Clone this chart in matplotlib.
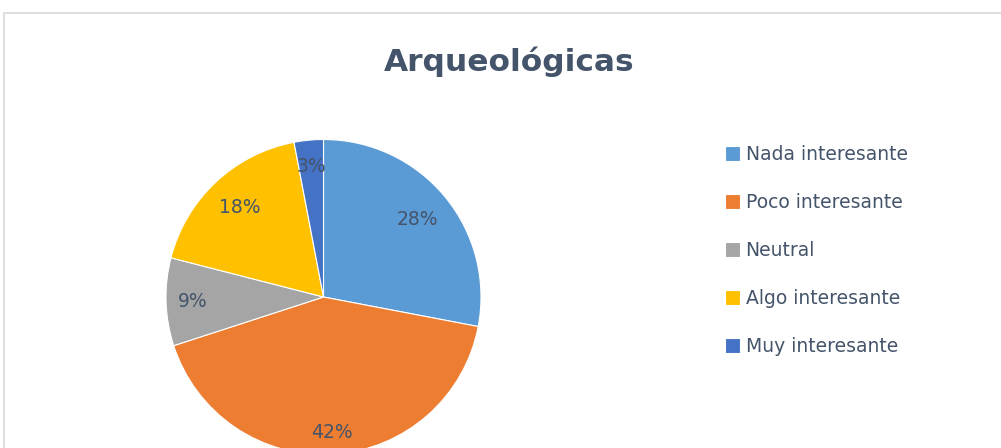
import matplotlib
matplotlib.use("Agg")
import matplotlib.pyplot as plt
from matplotlib.patches import Rectangle
import numpy as np

categories = ["Nada interesante", "Poco interesante", "Neutral", "Algo interesante", "Muy interesante"]
values = [28, 42, 9, 18, 3]
labels = ["28%", "42%", "9%", "18%", "3%"]
colors = ["#5B9BD5", "#ED7D31", "#A5A5A5", "#FFC000", "#4472C4"]
title = "Arqueológicas"

W, H = 1001, 448
fig = plt.figure(figsize=(W / 100, H / 100), dpi=100)
fig.patch.set_facecolor("white")
ax = fig.add_axes([0, 0, 1, 1])

cx, cy, r = 323.5, H - 297, 157.5
text_color = "#44546A"
wedges, _ = ax.pie(values, colors=colors, startangle=90, counterclock=False,
                   center=(cx, cy), radius=r, frame=True,
                   wedgeprops=dict(edgecolor="white", linewidth=0.8))
ax.set_xlim(0, W)
ax.set_ylim(0, H)
ax.set_aspect("equal")
ax.axis("off")

# chart border
ax.add_patch(Rectangle((4, -10), W + 10, H - 13 + 10, fill=False, edgecolor="#D9D9D9", lw=1.2))

dists = [0.77, 0.86, 0.83, 0.78, 0.83]
for w, lab, d in zip(wedges, labels, dists):
    ang = np.deg2rad((w.theta1 + w.theta2) / 2)
    ax.text(cx + d * r * np.cos(ang), cy + d * r * np.sin(ang), lab,
            ha="center", va="center", fontsize=13.5, color=text_color,
            family="DejaVu Sans")

ax.text(509, H - 62, title, ha="center", va="center", fontsize=22.5,
        fontweight="bold", color=text_color, family="DejaVu Sans")

leg = ax.legend(wedges, categories, loc="upper left",
                bbox_to_anchor=(708 / W, (H - 128) / H), frameon=False,
                handlelength=0.8, handleheight=0.8, handletextpad=0.3,
                labelspacing=1.55, prop=dict(family="DejaVu Sans", size=13.5))
for t in leg.get_texts():
    t.set_color(text_color)

fig.savefig("out.png", dpi=100, facecolor="white")
